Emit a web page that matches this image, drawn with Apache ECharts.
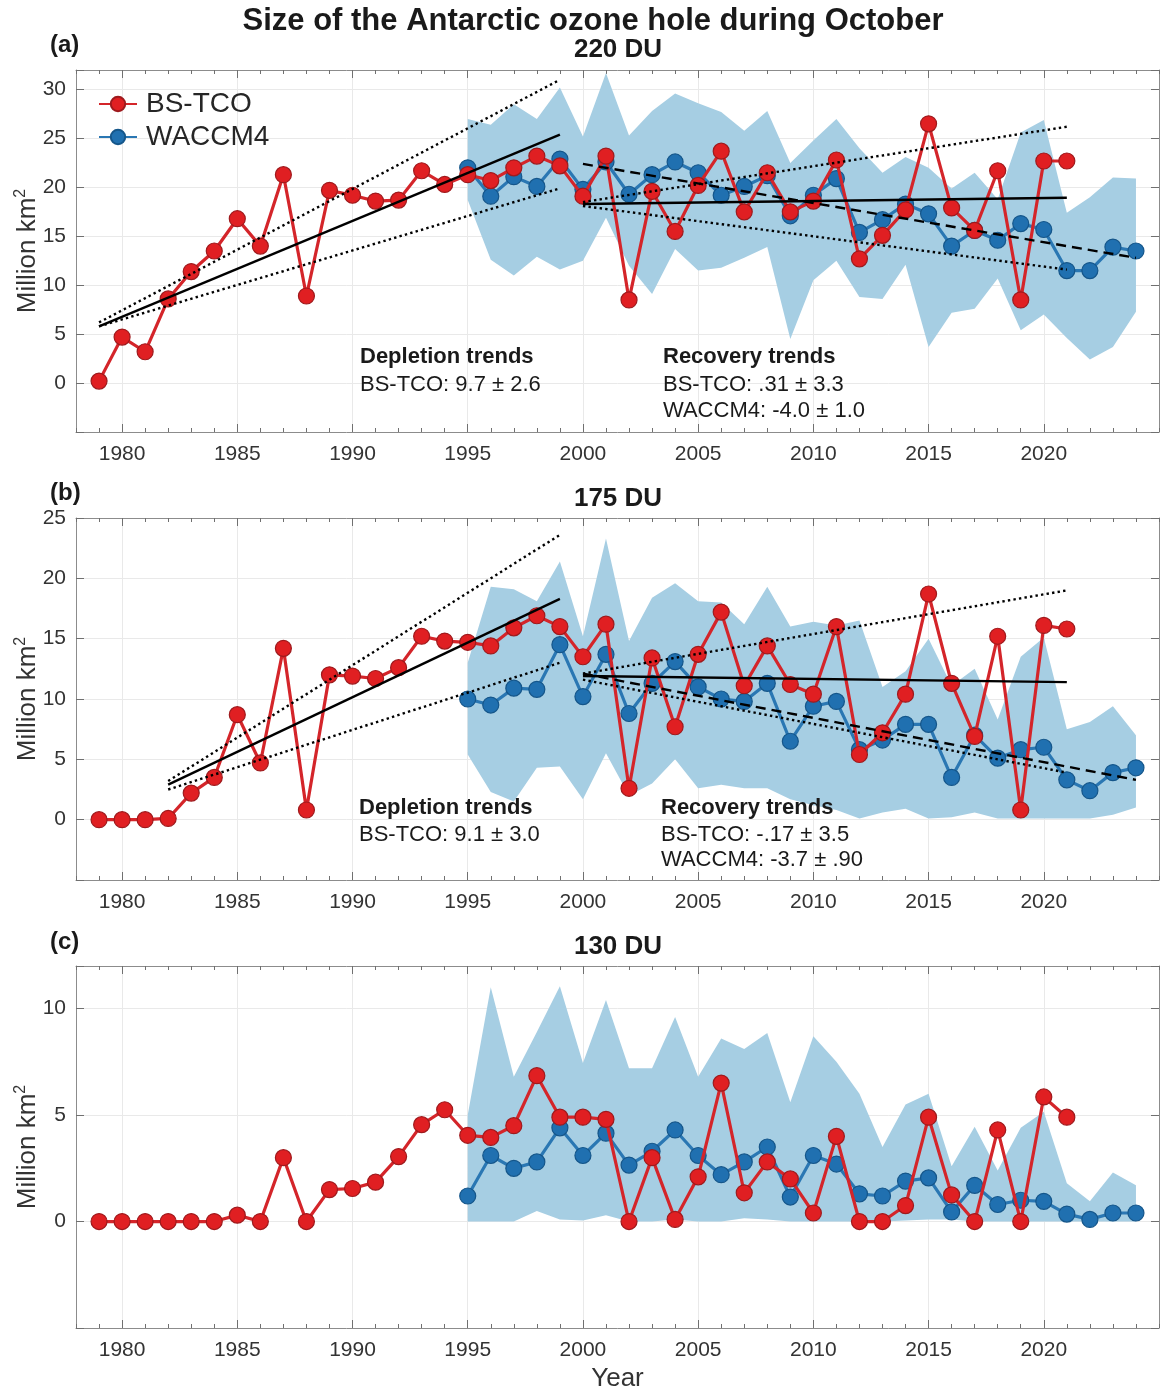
<!DOCTYPE html>
<html><head><meta charset="utf-8">
<script src="https://cdn.jsdelivr.net/npm/echarts@6/dist/echarts.min.js"></script>
<style>html,body{margin:0;padding:0;background:#fff}#c{width:1161px;height:1395px}</style>
</head><body><div id="c"></div>
<script>
// ---------- categories / ticks ----------
const yearsObs = [1979,1980,1981,1982,1983,1984,1985,1986,1987,1988,1989,1990,1991,1992,1993,1994,1995,1996,1997,1998,1999,2000,2001,2002,2003,2004,2005,2006,2007,2008,2009,2010,2011,2012,2013,2014,2015,2016,2017,2018,2019,2020,2021];
const yearsModel = [1995,1996,1997,1998,1999,2000,2001,2002,2003,2004,2005,2006,2007,2008,2009,2010,2011,2012,2013,2014,2015,2016,2017,2018,2019,2020,2021,2022,2023,2024];
const xTicks = [1980,1985,1990,1995,2000,2005,2010,2015,2020];
const yTicks220 = [0,5,10,15,20,25,30];
const yTicks175 = [0,5,10,15,20,25];
const yTicks130 = [0,5,10];

// ---------- 220 DU ----------
const bstco220 = [0.2,4.7,3.2,8.6,11.4,13.5,16.8,14.0,21.3,8.9,19.7,19.2,18.6,18.7,21.7,20.3,21.3,20.7,22.0,23.2,22.2,19.1,23.2,8.5,19.6,15.5,20.2,23.7,17.5,21.5,17.5,18.6,22.8,12.7,15.1,17.7,26.5,17.9,15.6,21.7,8.5,22.7,22.7];
const waccm220 = [22.0,19.1,21.1,20.1,22.9,19.8,22.6,19.3,21.3,22.6,21.5,19.2,20.1,21.2,17.1,19.2,20.9,15.4,16.7,18.3,17.3,14.0,15.6,14.6,16.3,15.7,11.5,11.5,13.9,13.5];
const bandHi220 = [27.0,26.4,28.5,27.0,30.2,25.2,31.7,25.3,27.8,29.6,28.6,27.7,25.8,27.8,22.5,24.8,27.0,24.0,21.5,23.1,22.0,19.9,21.5,18.8,25.6,26.9,17.4,19.0,21.0,20.9];
const bandLo220 = [18.7,12.6,11.0,12.9,11.6,12.5,16.9,12.0,9.1,13.7,11.5,11.8,12.8,13.9,4.5,10.5,12.5,8.8,8.6,12.1,3.7,7.2,7.6,10.7,5.4,7.0,4.6,2.4,3.7,7.3];

// ---------- 175 DU ----------
const bstco175 = [0,0,0,0.1,2.2,3.5,8.7,4.7,14.2,0.8,12.0,11.9,11.7,12.6,15.2,14.8,14.7,14.4,15.9,16.9,16.0,13.5,16.2,2.6,13.4,7.7,13.7,17.2,11.1,14.4,11.2,10.4,16.0,5.4,7.2,10.4,18.7,11.3,6.9,15.2,0.8,16.1,15.8];
const waccm175 = [10.0,9.5,10.9,10.8,14.5,10.2,13.7,8.8,11.3,13.1,11.0,10.0,9.8,11.3,6.5,9.4,9.8,5.8,6.6,7.9,7.9,3.5,7.0,5.1,5.8,6.0,3.3,2.4,3.9,4.3];
const bandHi175 = [13.0,19.3,19.1,18.1,21.4,15.2,23.3,14.8,18.4,19.6,18.1,18.0,16.2,19.3,16.0,16.4,16.1,16.5,11.0,12.3,15.0,11.1,12.5,8.3,13.5,15.1,7.5,8.1,9.4,7.0];
const bandLo175 = [5.4,2.3,1.5,4.3,4.4,1.7,5.5,2.0,3.0,5.0,2.6,2.9,2.6,2.6,1.7,1.2,0.8,0.1,0.6,0.9,0.1,0.2,0.6,0.1,0.1,0.1,0.1,0.1,0.4,1.0];

// ---------- 130 DU ----------
const bstco130 = [0,0,0,0,0,0,0.3,0,3.0,0,1.5,1.55,1.85,3.05,4.55,5.25,4.05,3.95,4.5,6.85,4.9,4.9,4.8,0,3.0,0.1,2.1,6.5,1.35,2.8,2.0,0.4,4.0,0,0,0.75,4.9,1.25,0,4.3,0,5.85,4.9];
const waccm130 = [1.2,3.1,2.5,2.8,4.4,3.1,4.15,2.65,3.3,4.3,3.1,2.2,2.8,3.5,1.15,3.1,2.7,1.3,1.2,1.9,2.05,0.45,1.7,0.8,1.0,0.95,0.35,0.1,0.4,0.4];
const bandHi130 = [5.0,11.0,6.8,8.9,11.05,7.45,10.4,7.2,7.2,9.6,6.8,8.6,8.1,8.85,5.6,8.7,7.5,6.0,3.5,5.5,6.0,2.6,4.45,2.4,4.4,5.15,1.8,0.95,2.3,1.7];
const bandLo130 = [0,0,0,0.5,0.1,0.05,0.3,0,0,0.1,0,0,0.15,0.1,0,0,0,0,0,0.05,0.1,0.1,0,0,0,0,0,0,0,0];

// ---------- trend line end points ----------
const depYears220 = [1979, 1999];
const dep220 = [5.8, 25.4];
const depHi220 = [6.2, 31.0];
const depLo220 = [5.8, 19.9];
const depYears175 = [1982, 1999];
const dep175 = [2.9, 18.3];
const depHi175 = [3.2, 23.6];
const depLo175 = [2.5, 13.0];
const recYearsObs = [2000, 2021];
const recYearsModel = [2000, 2024];
const rec220 = [18.3, 18.95];
const recHi220 = [18.5, 26.2];
const recLo220 = [18.1, 11.6];
const recW220 = [22.4, 12.8];
const rec175 = [11.9, 11.4];
const recHi175 = [12.1, 19.0];
const recLo175 = [11.6, 3.9];
const recW175 = [12.1, 3.3];

// ---------- build ----------
const FONT = '"Liberation Sans", Arial, Helvetica, sans-serif';
const C = {red:'#d4252a', redFace:'#e01f22', redEdge:'#9e1a1d', blue:'#2a77b3', blueFace:'#2070b0', blueEdge:'#15568a',
  band:'#a6cee3', frame:'#8c8c8c', grid:'#e9e9e9', text:'#333333', tick:'#707070'};
const T = 'rgba(0,0,0,0)';
const layout = [{top:70, ymax:32}, {top:518, ymax:25}, {top:966, ymax:12}];
const H = 362, LEFT = 76, RIGHT = 2;

const panels = [
  {obs:bstco220, mod:waccm220, hi:bandHi220, lo:bandLo220, yTicks:yTicks220,
   trends:[[depYears220,dep220,'solid'],[depYears220,depHi220,'dotted'],[depYears220,depLo220,'dotted'],
           [recYearsObs,rec220,'solid'],[recYearsObs,recHi220,'dotted'],[recYearsObs,recLo220,'dotted'],
           [recYearsModel,recW220,'dashed']]},
  {obs:bstco175, mod:waccm175, hi:bandHi175, lo:bandLo175, yTicks:yTicks175,
   trends:[[depYears175,dep175,'solid'],[depYears175,depHi175,'dotted'],[depYears175,depLo175,'dotted'],
           [recYearsObs,rec175,'solid'],[recYearsObs,recHi175,'dotted'],[recYearsObs,recLo175,'dotted'],
           [recYearsModel,recW175,'dashed']]},
  {obs:bstco130, mod:waccm130, hi:bandHi130, lo:bandLo130, yTicks:yTicks130, trends:[]}
];

const dashMap = {solid:'solid', dotted:[2.4,3.2], dashed:[10,6]};
const grids = [], xAxes = [], yAxes = [], series = [];

layout.forEach((l, i) => {
  const p = panels[i];
  grids.push({left:LEFT, right:RIGHT, top:l.top, height:H, containLabel:false, outerBoundsMode:'none'});
  const base = {type:'value', gridIndex:i, min:1978, max:2025};
  const line = {show:true, onZero:false, lineStyle:{color:C.frame, width:1}};
  xAxes.push(Object.assign({}, base, {position:'bottom', interval:1, axisLine:line,
    axisTick:{show:true, inside:true, length:4, lineStyle:{color:C.tick}},
    axisLabel:{show:true, margin:12, fontSize:21, color:C.text, fontFamily:FONT,
      formatter: v => xTicks.includes(v) ? String(v) : ''},
    splitLine:{show:true, lineStyle:{color:[T,T,C.grid,T,T], width:1}},
    name: i === 2 ? 'Year' : '', nameLocation:'middle', nameGap:38, nameMoveOverlap:false,
    nameTextStyle:{fontSize:26, color:C.text, fontFamily:FONT}}));
  xAxes.push(Object.assign({}, base, {position:'top', interval:1, axisLine:line,
    axisTick:{show:true, inside:true, length:4, lineStyle:{color:C.tick}},
    axisLabel:{show:false}, splitLine:{show:false}}));
  ['bottom','top'].forEach(pos => xAxes.push(Object.assign({}, base, {position:pos,
    axisLine:{show:false, onZero:false}, axisTick:{show:true, inside:true, length:8, customValues:xTicks, lineStyle:{color:C.tick}},
    axisLabel:{show:false}, splitLine:{show:false}})));
  const yb = {type:'value', gridIndex:i, min:-5, max:l.ymax, interval:5};
  yAxes.push(Object.assign({}, yb, {position:'left', axisLine:line,
    axisTick:{show:true, inside:true, length:8, lineStyle:{color:C.tick}},
    axisLabel:{margin:10, fontSize:21, color:C.text, fontFamily:FONT,
      formatter: v => p.yTicks.includes(v) ? String(v) : ''},
    splitLine:{show:true, lineStyle:{color:C.grid, width:1}},
    name:'Million km{sup|2}', nameLocation:'middle', nameGap:33, nameMoveOverlap:false,
    nameTextStyle:{fontSize:26, color:C.text, fontFamily:FONT, lineHeight:30,
      rich:{sup:{fontSize:16, color:C.text, fontFamily:FONT, verticalAlign:'top', lineHeight:16}}}}));
  yAxes.push(Object.assign({}, yb, {position:'right', axisLine:line,
    axisTick:{show:true, inside:true, length:8, lineStyle:{color:C.tick}},
    axisLabel:{show:false}, splitLine:{show:false}}));

  const xi = 4 * i, yi = 2 * i;
  series.push({type:'custom', name:'band', xAxisIndex:xi, yAxisIndex:yi, z:1, silent:true, clip:true,
    data:[[yearsModel[0], p.lo[0]]],
    renderItem: (params, api) => {
      const pts = [];
      for (let k = 0; k < yearsModel.length; k++) pts.push(api.coord([yearsModel[k], p.hi[k]]));
      for (let k = yearsModel.length - 1; k >= 0; k--) pts.push(api.coord([yearsModel[k], p.lo[k]]));
      return {type:'polygon', shape:{points:pts}, style:{fill:C.band}};
    }});
  series.push({type:'line', name:'WACCM4', xAxisIndex:xi, yAxisIndex:yi, z:3,
    data: yearsModel.map((y, k) => [y, p.mod[k]]),
    symbol:'circle', symbolSize:16, showAllSymbol:true,
    lineStyle:{color:C.blue, width:3.2},
    itemStyle:{color:C.blueFace, borderColor:C.blueEdge, borderWidth:1.2}});
  series.push({type:'line', name:'BS-TCO', xAxisIndex:xi, yAxisIndex:yi, z:4,
    data: yearsObs.map((y, k) => [y, p.obs[k]]),
    symbol:'circle', symbolSize:16, showAllSymbol:true,
    lineStyle:{color:C.red, width:3.2},
    itemStyle:{color:C.redFace, borderColor:C.redEdge, borderWidth:1.2}});
  p.trends.forEach(tr => series.push({type:'line', name:'trend', xAxisIndex:xi, yAxisIndex:yi, z:6, silent:true,
    data: tr[0].map((y, k) => [y, tr[1][k]]), symbol:'none',
    lineStyle:{color:'#000', width:2.4, type:dashMap[tr[2]]}}));
});

const txt = (t, x, y, size, bold, align) => ({type:'text', x:x, y:y, silent:true, z:100,
  style:{text:t, fontSize:size, fontWeight:bold ? 'bold' : 'normal', fontFamily:FONT, fill:'#1a1a1a',
    align:align, textAlign:align, verticalAlign:'middle', textVerticalAlign:'middle'}});

const graphics = [
  txt('Size of the Antarctic ozone hole during October', 593, 21, 31, true, 'center'),
  txt('(a)', 50, 45, 24, true, 'left'),
  txt('220 DU', 618, 50, 26, true, 'center'),
  txt('(b)', 50, 493, 24, true, 'left'),
  txt('175 DU', 618, 499, 26, true, 'center'),
  txt('(c)', 50, 942, 24, true, 'left'),
  txt('130 DU', 618, 947, 26, true, 'center'),
  txt('Depletion trends', 360, 357, 22, true, 'left'),
  txt('BS-TCO: 9.7 \u00b1 2.6', 360, 385, 22, false, 'left'),
  txt('Recovery trends', 663, 357, 22, true, 'left'),
  txt('BS-TCO: .31 \u00b1 3.3', 663, 385, 22, false, 'left'),
  txt('WACCM4: -4.0 \u00b1 1.0', 663, 411, 22, false, 'left'),
  txt('Depletion trends', 359, 808, 22, true, 'left'),
  txt('BS-TCO: 9.1 \u00b1 3.0', 359, 835, 22, false, 'left'),
  txt('Recovery trends', 661, 808, 22, true, 'left'),
  txt('BS-TCO: -.17 \u00b1 3.5', 661, 835, 22, false, 'left'),
  txt('WACCM4: -3.7 \u00b1 .90', 661, 860, 22, false, 'left')
];

const chart = echarts.init(document.getElementById('c'), null, {renderer:'canvas'});
chart.setOption({
  animation:false,
  backgroundColor:'#ffffff',
  grid:grids, xAxis:xAxes, yAxis:yAxes, series:series,
  legend:{data:['BS-TCO','WACCM4'], orient:'vertical', left:93, top:85, itemWidth:38, itemHeight:18, itemGap:5,
    selectedMode:false, textStyle:{fontSize:28, color:'#262626', fontFamily:FONT, padding:[0,0,0,4]}},
  graphic:graphics
});
</script></body></html>
